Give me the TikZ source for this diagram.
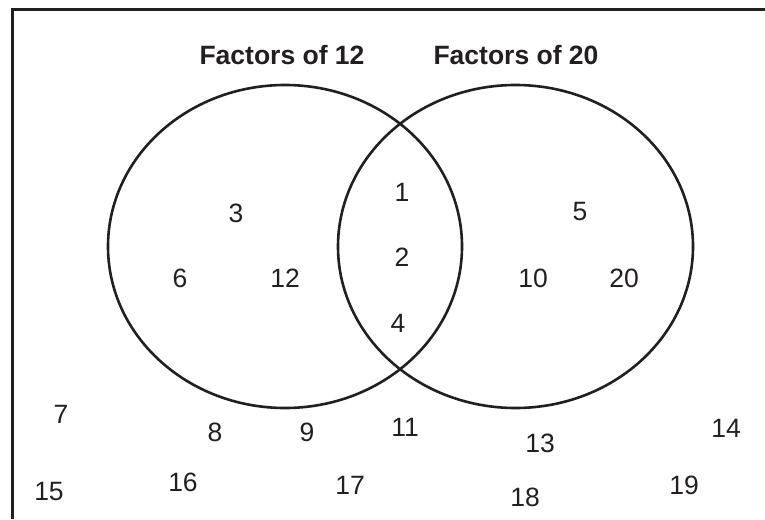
\documentclass[tikz,border=0pt]{standalone}
\usepackage{fontspec}
\setmainfont{Liberation Sans}
\usetikzlibrary{shapes.geometric}
\definecolor{ink}{HTML}{231F20}
\begin{document}
\begin{tikzpicture}[x=1pt,y=-1pt,
  num/.style={inner sep=0pt,text=ink,font=\fontsize{26.5}{30}\selectfont},
  ttl/.style={inner sep=0pt,text=ink,font=\fontsize{26.5}{30}\selectfont\bfseries},
  setline/.style={draw=ink,line width=2.6pt},
  frameline/.style={draw=ink,line width=3pt}]
\useasboundingbox (0,0) rectangle (765,519);
\coordinate (fb) at (12,519);
\coordinate (fc) at (12,10);
\coordinate (fr) at (765,10);
\begin{scope}
\clip (0,0) rectangle (765,519);
\draw[frameline] (fb) -- (fc) -- (fr);
\end{scope}
\node[setline,ellipse,minimum width=354pt,minimum height=323pt,inner sep=0pt] (A) at (285,246.5) {};
\node[setline,ellipse,minimum width=355pt,minimum height=323pt,inner sep=0pt] (B) at (515.5,246.5) {};
\node[ttl] (tA) at (282,55) {Factors of 12};
\node[ttl] (tB) at (516,55) {Factors of 20};
\node[num] (n3) at (236,213) {3};
\node[num] (n6) at (180,278) {6};
\node[num] (n12) at (285,278) {12};
\node[num] (n1) at (402,192) {1};
\node[num] (n2) at (402,257) {2};
\node[num] (n4) at (398,323) {4};
\node[num] (n5) at (580,212) {5};
\node[num] (n10) at (533,278) {10};
\node[num] (n20) at (624,278) {20};
\node[num] (n7) at (61,414) {7};
\node[num] (n15) at (49,492) {15};
\node[num] (n16) at (183,482) {16};
\node[num] (n8) at (215,432) {8};
\node[num] (n9) at (307,432) {9};
\node[num] (n11) at (405,427) {11};
\node[num] (n13) at (540,443) {13};
\node[num] (n17) at (350,485) {17};
\node[num] (n18) at (525,497) {18};
\node[num] (n14) at (726,428) {14};
\node[num] (n19) at (684,485) {19};
\end{tikzpicture}
\end{document}
